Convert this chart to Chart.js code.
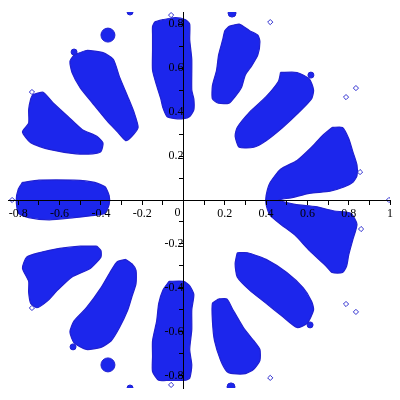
<!DOCTYPE html>
<html>
<head>
<meta charset="utf-8">
<script src="https://cdn.jsdelivr.net/npm/chart.js@4.4.1/dist/chart.umd.min.js"></script>
<style>
html,body{margin:0;padding:0;background:#fff;}
canvas{display:block;}
</style>
</head>
<body>
<canvas id="c" width="400" height="400"></canvas>
<script>
// Axis ticks
const xTicks = [-0.8,-0.7,-0.6,-0.5,-0.4,-0.3,-0.2,-0.1,0,0.1,0.2,0.3,0.4,0.5,0.6,0.7,0.8,0.9,1.0];
const xTickLabels = ['-0.8','','-0.6','','-0.4','','-0.2','','','','0.2','','0.4','','0.6','','0.8','','1'];
const yTicks = [-0.8,-0.7,-0.6,-0.5,-0.4,-0.3,-0.2,-0.1,0,0.1,0.2,0.3,0.4,0.5,0.6,0.7,0.8];
const yTickLabels = ['-0.8','','-0.6','','-0.4','','-0.2','','','','0.2','','0.4','','0.6','','0.8'];

// Petal outlines (x, y)
const petalTop = [[-0.14,0.81],[-0.10,0.82],[-0.04,0.83],[0.01,0.82],[0.03,0.80],[0.03,0.73],[0.04,0.64],[0.04,0.50],[0.05,0.46],[0.05,0.41],[0.03,0.38],[0.00,0.37],[-0.04,0.37],[-0.08,0.38],[-0.10,0.42],[-0.11,0.46],[-0.13,0.52],[-0.15,0.59],[-0.15,0.68],[-0.15,0.75],[-0.15,0.79]];
const petalBottom = [[-0.07,-0.37],[0.00,-0.37],[0.03,-0.39],[0.05,-0.43],[0.04,-0.50],[0.04,-0.59],[0.03,-0.68],[0.04,-0.75],[0.03,-0.81],[0.00,-0.82],[-0.07,-0.82],[-0.12,-0.82],[-0.15,-0.78],[-0.15,-0.71],[-0.15,-0.64],[-0.13,-0.55],[-0.12,-0.47],[-0.10,-0.41]];
const petalUpperRight1 = [[0.22,0.79],[0.27,0.80],[0.32,0.77],[0.36,0.75],[0.37,0.72],[0.36,0.66],[0.33,0.61],[0.30,0.57],[0.28,0.51],[0.25,0.47],[0.22,0.44],[0.17,0.44],[0.14,0.46],[0.14,0.52],[0.16,0.59],[0.17,0.66],[0.19,0.73],[0.20,0.77]];
const petalLowerRight1 = [[0.17,-0.45],[0.21,-0.45],[0.24,-0.50],[0.29,-0.58],[0.34,-0.64],[0.37,-0.68],[0.37,-0.73],[0.34,-0.77],[0.30,-0.79],[0.24,-0.79],[0.21,-0.78],[0.18,-0.73],[0.15,-0.64],[0.14,-0.55],[0.14,-0.47]];
const petalUpperRight2 = [[0.47,0.58],[0.55,0.58],[0.61,0.55],[0.63,0.50],[0.62,0.46],[0.56,0.40],[0.48,0.33],[0.40,0.27],[0.34,0.24],[0.27,0.24],[0.25,0.29],[0.26,0.33],[0.32,0.40],[0.40,0.47],[0.46,0.54]];
const petalLowerRight2 = [[0.26,-0.24],[0.31,-0.24],[0.40,-0.27],[0.50,-0.33],[0.58,-0.40],[0.62,-0.46],[0.63,-0.50],[0.60,-0.56],[0.55,-0.58],[0.48,-0.53],[0.40,-0.47],[0.32,-0.41],[0.26,-0.35],[0.25,-0.29]];
const petalRight = [[0.72,0.33],[0.77,0.33],[0.80,0.28],[0.82,0.22],[0.84,0.16],[0.84,0.11],[0.82,0.08],[0.78,0.06],[0.71,0.04],[0.61,0.03],[0.52,0.01],[0.46,0.00],[0.54,-0.02],[0.64,-0.03],[0.73,-0.05],[0.81,-0.06],[0.84,-0.11],[0.82,-0.18],[0.80,-0.25],[0.79,-0.30],[0.77,-0.33],[0.72,-0.33],[0.69,-0.30],[0.61,-0.23],[0.54,-0.16],[0.47,-0.11],[0.42,-0.07],[0.40,-0.02],[0.40,0.02],[0.42,0.08],[0.47,0.14],[0.55,0.18],[0.62,0.24],[0.67,0.29]];
const petalUpperLeft1 = [[-0.53,0.66],[-0.47,0.68],[-0.39,0.67],[-0.34,0.64],[-0.31,0.56],[-0.27,0.47],[-0.24,0.40],[-0.22,0.33],[-0.25,0.29],[-0.28,0.27],[-0.32,0.31],[-0.37,0.36],[-0.44,0.44],[-0.50,0.51],[-0.54,0.58],[-0.55,0.63]];
const petalLowerLeft1 = [[-0.28,-0.27],[-0.25,-0.29],[-0.23,-0.32],[-0.23,-0.38],[-0.25,-0.44],[-0.27,-0.50],[-0.31,-0.58],[-0.35,-0.64],[-0.40,-0.67],[-0.47,-0.68],[-0.53,-0.65],[-0.55,-0.60],[-0.53,-0.55],[-0.47,-0.49],[-0.40,-0.40],[-0.35,-0.32],[-0.32,-0.28]];
const petalUpperLeft2 = [[-0.73,0.48],[-0.68,0.49],[-0.63,0.44],[-0.56,0.38],[-0.49,0.32],[-0.42,0.29],[-0.39,0.26],[-0.40,0.22],[-0.44,0.21],[-0.52,0.21],[-0.65,0.23],[-0.74,0.26],[-0.78,0.31],[-0.75,0.35],[-0.75,0.41],[-0.74,0.46]];
const petalLowerLeft2 = [[-0.42,-0.21],[-0.40,-0.23],[-0.40,-0.26],[-0.45,-0.31],[-0.54,-0.35],[-0.61,-0.41],[-0.66,-0.46],[-0.71,-0.49],[-0.74,-0.47],[-0.75,-0.42],[-0.75,-0.37],[-0.78,-0.31],[-0.76,-0.26],[-0.70,-0.24],[-0.60,-0.22],[-0.50,-0.21]];
const petalLeft = [[-0.78,0.08],[-0.70,0.09],[-0.53,0.09],[-0.43,0.08],[-0.38,0.06],[-0.36,0.02],[-0.36,-0.02],[-0.38,-0.06],[-0.43,-0.07],[-0.53,-0.08],[-0.65,-0.09],[-0.75,-0.08],[-0.80,-0.06],[-0.81,0.00],[-0.80,0.05]];

// Small dense clusters
const clusterX = [0.235, 0.230, -0.366, -0.366, -0.259, -0.259, 0.613, 0.617, -0.530, -0.535];
const clusterY = [0.850, -0.850, 0.750, -0.750, 0.855, -0.855, -0.568, 0.568, 0.673, -0.668];
const clusterSize = [4, 4, 7, 7, 3, 3, 3, 3, 3, 3];

// Isolated points
const strayX = [-0.06, -0.06, 0.42, 0.42, 0.835, 0.787, 0.787, 0.835, 0.855, 0.86, 0.995, -0.83, -0.734, -0.734];
const strayY = [0.841, -0.841, 0.809, -0.809, 0.509, 0.468, -0.473, -0.509, 0.127, -0.132, 0.0, 0.0, 0.491, -0.491];

const petals = [petalTop, petalBottom, petalUpperRight1, petalLowerRight1, petalUpperRight2, petalLowerRight2, petalRight, petalUpperLeft1, petalLowerLeft1, petalUpperLeft2, petalLowerLeft2, petalLeft];

const FILL = '#1c26ec';
const EDGE = '#2020d0';

const datasets = petals.map(p => ({
  type: 'scatter',
  data: p.concat([p[0]]).map(([x, y]) => ({x, y})),
  showLine: true,
  fill: 'shape',
  backgroundColor: FILL,
  borderColor: EDGE,
  borderWidth: 1.2,
  tension: 0.2,
  pointRadius: 0,
  order: 2
}));

datasets.push({
  type: 'scatter',
  data: clusterX.map((x, i) => ({x, y: clusterY[i]})),
  pointStyle: 'circle',
  pointRadius: clusterSize,
  backgroundColor: FILL,
  borderColor: EDGE,
  borderWidth: 1,
  order: 1
});

datasets.push({
  type: 'scatter',
  data: strayX.map((x, i) => ({x, y: strayY[i]})),
  pointStyle: 'rectRot',
  pointRadius: 2.6,
  backgroundColor: 'rgba(255,255,255,0)',
  borderColor: '#3030d0',
  borderWidth: 1,
  order: 0
});

const font = {family: '"Liberation Serif", "Times New Roman", serif', size: 12};

const originLabel = {
  id: 'originLabel',
  afterDraw(chart) {
    const ctx = chart.ctx;
    const x = chart.scales.x.getPixelForValue(0);
    const y = chart.scales.y.getPixelForValue(0);
    ctx.save();
    ctx.font = '12px "Liberation Serif", serif';
    ctx.fillStyle = '#000';
    ctx.textAlign = 'center';
    ctx.textBaseline = 'middle';
    ctx.fillText('0', x - 6, y + 13);
    ctx.restore();
  }
};

new Chart(document.getElementById('c'), {
  type: 'scatter',
  data: {datasets},
  options: {
    responsive: false,
    animation: false,
    devicePixelRatio: 1,
    layout: {padding: {left: 8, right: 10, top: 12, bottom: 12}},
    plugins: {legend: {display: false}, tooltip: {enabled: false}},
    scales: {
      x: {
        type: 'linear',
        min: -0.85,
        max: 1.0,
        position: {y: 0},
        afterBuildTicks: axis => { axis.ticks = xTicks.map(v => ({value: v})); },
        grid: {display: true, drawOnChartArea: false, drawTicks: true, tickLength: 4, color: '#000', lineWidth: 1, z: 1},
        border: {display: true, color: '#000', width: 1, z: 1},
        ticks: {
          autoSkip: false, maxRotation: 0, padding: 3, color: '#000', font, z: 1,
          callback: (v, i) => xTickLabels[i]
        }
      },
      y: {
        type: 'linear',
        min: -0.855,
        max: 0.855,
        position: {x: 0},
        afterBuildTicks: axis => { axis.ticks = yTicks.map(v => ({value: v})); },
        grid: {display: true, drawOnChartArea: false, drawTicks: true, tickLength: 4, color: '#000', lineWidth: 1, z: 1},
        border: {display: true, color: '#000', width: 1, z: 1},
        ticks: {
          autoSkip: false, padding: 3, color: '#000', font, z: 1,
          callback: (v, i) => yTickLabels[i]
        }
      }
    }
  },
  plugins: [originLabel]
});
</script>
</body>
</html>
